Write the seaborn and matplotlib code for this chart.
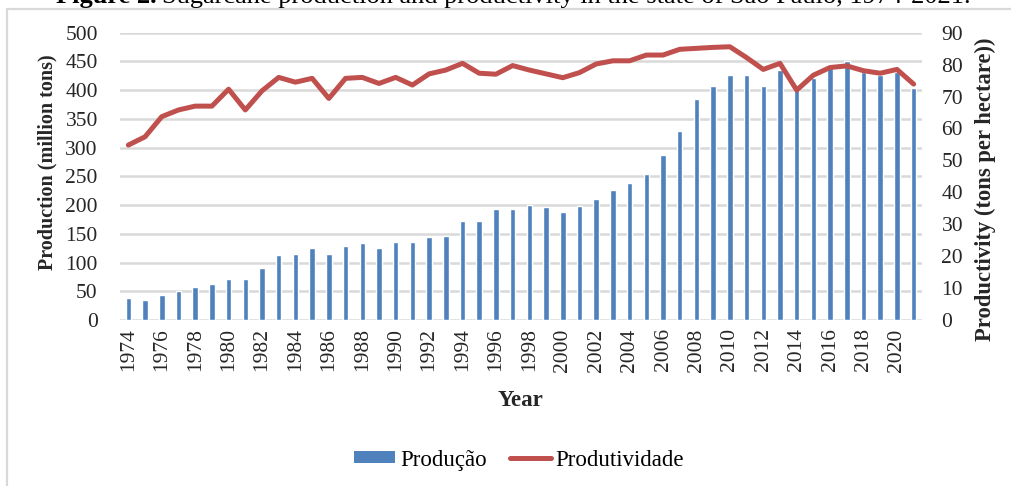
import numpy as np
import pandas as pd
import matplotlib
matplotlib.use("Agg")
import matplotlib.pyplot as plt
from matplotlib.patches import Rectangle
from matplotlib.lines import Line2D
import seaborn as sns

# Sugarcane in São Paulo state, 1974-2021
years = list(range(1974, 2022))
production = [39, 35, 44, 50, 57, 63, 72, 72, 91, 113, 115, 125, 115, 129, 134, 125,
              136, 136, 145, 147, 173, 173, 193, 193, 200, 196, 188, 198, 210, 227,
              239, 254, 288, 329, 385, 408, 427, 427, 408, 435, 400, 422, 438, 451,
              432, 426, 432, 404]
productivity = [54.8, 57.4, 63.7, 65.8, 67.0, 67.0, 72.3, 65.8, 71.8, 76.0, 74.5, 75.7,
                69.4, 75.7, 76.0, 74.1, 76.0, 73.6, 77.1, 78.3, 80.4, 77.3, 77.0, 79.7,
                78.3, 77.1, 75.9, 77.5, 80.2, 81.2, 81.2, 83.0, 83.0, 84.8, 85.1, 85.4,
                85.6, 82.2, 78.5, 80.4, 72.0, 76.7, 79.1, 79.6, 78.1, 77.3, 78.5, 73.9]
left_ticks = list(range(0, 501, 50))
right_ticks = list(range(0, 91, 10))

df = pd.DataFrame({"year": years, "prod": production, "yield": productivity})
df["pos"] = np.arange(len(df))

BLUE = "#4F81BD"
RED = "#C0504D"
GRID = "#D9D9D9"

sns.set_theme(style="white")
plt.rcParams["font.family"] = ["Liberation Serif", "DejaVu Serif"]
plt.rcParams["text.color"] = "#000000"

fig = plt.figure(figsize=(10.12, 4.86), dpi=100)
W, H = 1012, 486

# outer frame
fig.patches.append(Rectangle((7 / W, -0.1), 1.2, 1 - 9 / H + 0.1, transform=fig.transFigure,
                             fill=False, edgecolor="#D9D9D9", linewidth=1.6))

# caption
fig.text(157 / W, 1 - 3.5 / H, "Figure 2.", ha="right", va="baseline",
         fontsize=19, fontweight="bold")
fig.text(162 / W, 1 - 3.5 / H,
         "Sugarcane production and productivity in the state of São Paulo, 1974-2021.",
         ha="left", va="baseline", fontsize=19)

ax = fig.add_axes([120 / W, 1 - 320 / H, (922 - 120) / W, (320 - 32.7) / H])
sns.barplot(data=df, x="pos", y="prod", ax=ax, color=BLUE, width=0.33,
            saturation=1, native_scale=True)
ax.set_xlim(-0.5, len(df) - 0.5)
ax.set_ylim(0, 500)
ax.set_yticks(left_ticks)
ax.set_yticklabels([str(t) for t in left_ticks], fontsize=15.5)
ax.set_xticks(df["pos"][::2])
ax.set_xticklabels([str(y) for y in years[::2]], rotation=90, fontsize=15.5)
ax.yaxis.grid(True, color=GRID, linewidth=1.8)
ax.set_axisbelow(True)
for s in ax.spines.values():
    s.set_visible(False)
ax.tick_params(axis="x", length=0, pad=6)
ax.tick_params(axis="y", length=0, pad=16)
ax.set_xlabel("Year", fontsize=16.5, fontweight="bold", va="center")
ax.xaxis.set_label_coords(521 / W, 1 - 400 / H, transform=fig.transFigure)
ax.set_ylabel("Production (million tons)", fontsize=14.5, fontweight="bold", va="center")
ax.yaxis.set_label_coords(47 / W, 1 - 162 / H, transform=fig.transFigure)

ax2 = ax.twinx()
sns.lineplot(data=df, x="pos", y="yield", ax=ax2, color=RED, linewidth=3.6,
             solid_joinstyle="round", solid_capstyle="round", legend=False)
ax2.set_ylim(0, 90)
ax2.set_yticks(right_ticks)
ax2.set_yticklabels([str(t) for t in right_ticks], fontsize=15.5)
ax2.tick_params(axis="y", length=0, pad=14)
for s in ax2.spines.values():
    s.set_visible(False)
ax2.set_xlabel("")
ax2.set_ylabel("Productivity (tons per hectare))", fontsize=16.3, fontweight="bold",
               va="center")
ax2.yaxis.set_label_coords(985 / W, 1 - 189 / H, transform=fig.transFigure)

handles = [Rectangle((0, 0), 1, 1, facecolor=BLUE, edgecolor="none"),
           Line2D([0], [0], color=RED, linewidth=3.6, solid_capstyle="round")]
fig.legend(handles, ["Produção", "Produtividade"], loc="center",
           bbox_to_anchor=(519 / W, 1 - 460 / H), ncol=2, frameon=False,
           fontsize=16.5, handlelength=1.8, handleheight=0.45, handletextpad=0.2,
           columnspacing=1.0)

fig.savefig("out.png", dpi=100)
